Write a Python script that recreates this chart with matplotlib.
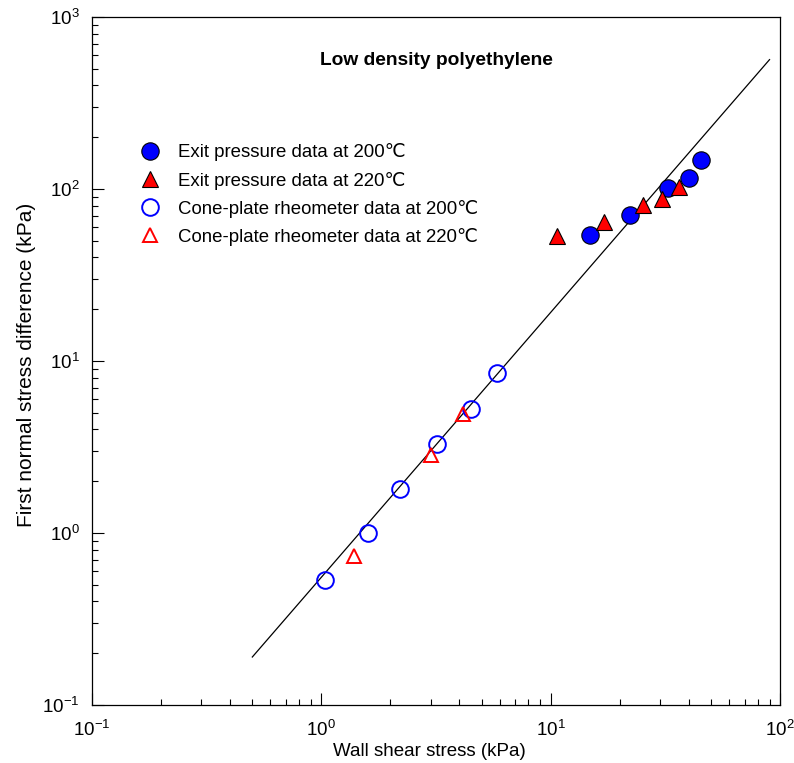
import numpy as np
import matplotlib.pyplot as plt

plt.rcParams['font.family'] = ['Liberation Sans', 'DejaVu Sans']
plt.rcParams['mathtext.fontset'] = 'custom'
plt.rcParams['mathtext.rm'] = 'Liberation Sans'
plt.rcParams['mathtext.it'] = 'Liberation Sans:italic'
plt.rcParams['mathtext.bf'] = 'Liberation Sans:bold'
plt.rcParams['axes.unicode_minus'] = False

# ------------------------------
# data (kPa)
# ------------------------------
# exit pressure data, 200C
exit200_x = [14.9, 22.2, 32.5, 40.2, 45.3]
exit200_y = [54.0, 70.3, 101.8, 116.3, 146.8]
# exit pressure data, 220C
exit220_x = [10.7, 17.0, 25.2, 30.7, 36.2]
exit220_y = [53.2, 64.0, 80.4, 87.1, 102.7]
# cone-plate rheometer, 200C
cone200_x = [1.04, 1.59, 2.20, 3.19, 4.50, 5.86]
cone200_y = [0.533, 0.995, 1.80, 3.28, 5.26, 8.48]
# cone-plate rheometer, 220C
cone220_x = [1.39, 3.00, 4.16]
cone220_y = [0.740, 2.83, 4.92]

# power law line  N1 = a * tau^n
fit_a = 0.553
fit_n = 1.54
fit_range = [0.5, 90.0]

fig = plt.figure(figsize=(7.94, 7.63), dpi=100)
ax = fig.add_axes([0.1159, 0.076, 0.8665, 0.9017])

tt = np.logspace(np.log10(fit_range[0]), np.log10(fit_range[1]), 50)
ax.plot(tt, fit_a * tt**fit_n, 'k-', lw=0.9)

ax.plot(exit200_x, exit200_y, 'o', ms=12.5, mfc='blue', mec='black', mew=0.8,
        label='Exit pressure data at 200\u2103')
ax.plot(exit220_x, exit220_y, '^', ms=11.5, mfc='red', mec='black', mew=0.8,
        label='Exit pressure data at 220\u2103')
ax.plot(cone200_x, cone200_y, 'o', ms=12, mfc='none', mec='blue', mew=1.4,
        label='Cone-plate rheometer data at 200\u2103')
ax.plot(cone220_x, cone220_y, '^', ms=10.5, mfc='none', mec='red', mew=1.4,
        label='Cone-plate rheometer data at 220\u2103')

ax.set_xscale('log'); ax.set_yscale('log')
ax.set_xlim(0.1, 100); ax.set_ylim(0.1, 1000)

ax.tick_params(which='both', direction='in', top=False, right=False, labelsize=13.5)
ax.tick_params(axis='x', which='major', length=8.5, width=0.8, pad=11)
ax.tick_params(axis='y', which='major', length=8.5, width=0.8, pad=9)
ax.tick_params(which='minor', length=4.5, width=0.8)
for s in ax.spines.values():
    s.set_linewidth(0.9)

ax.set_xlabel('Wall shear stress (kPa)', fontsize=13.5)
ax.xaxis.set_label_coords(0.49, -0.055)
ax.set_ylabel('First normal stress difference (kPa)', fontsize=15)
ax.yaxis.set_label_coords(-0.082, 0.495)
ax.text(0.501, 0.9375, 'Low density polyethylene', transform=ax.transAxes,
        ha='center', va='center', fontsize=13.8, fontweight='bold')

ax.legend(loc='upper left', bbox_to_anchor=(0.05, 0.83), frameon=False,
          fontsize=13.4, handletextpad=0.75, labelspacing=0.55, borderpad=0,
          handlelength=1.5)

plt.savefig('out.png', dpi=100)
